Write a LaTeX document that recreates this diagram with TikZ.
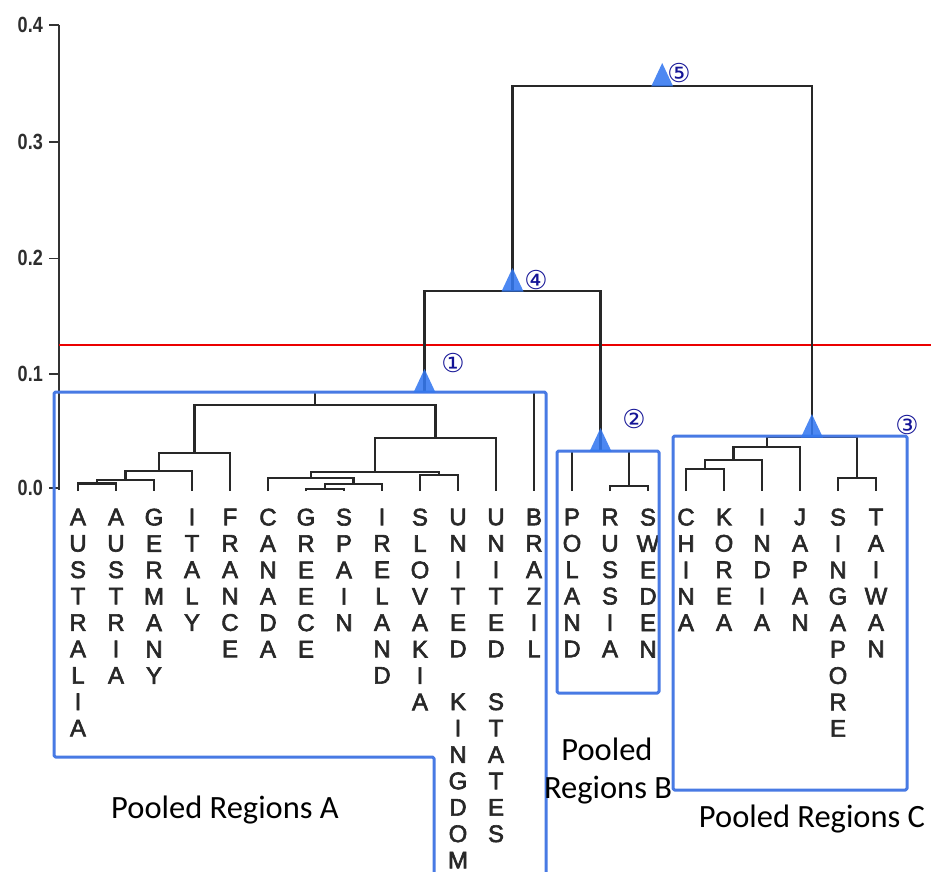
\documentclass[tikz,border=0pt]{standalone}
\usepackage{fontspec}
\setmainfont{Liberation Sans}
\newfontfamily\poolfont{Carlito}
\newfontfamily\leaffont[FakeBold=2.5]{Liberation Sans}
\newfontfamily\axisfont[FakeStretch=0.82]{Liberation Sans}
\newfontfamily\symfont{DejaVu Sans}
\definecolor{poolblue}{RGB}{72,122,228}
\definecolor{triblue}{RGB}{52,120,240}
\definecolor{numnavy}{RGB}{20,20,150}
\definecolor{treeink}{RGB}{40,40,40}

\begin{document}
\begin{tikzpicture}[x=1pt,y=-1pt,
  tree/.style={draw=treeink, line width=2.3pt},
  pool/.style={draw=poolblue, line width=3pt, line join=round, rounded corners=1.5pt},
  cutline/.style={draw=red!92!black, line width=2pt},
  tri/.style={fill=triblue, fill opacity=0.88},
  leaf/.style={anchor=north, inner sep=0pt, align=center,
    font=\leaffont\fontsize{24}{26.4}\selectfont, text=treeink},
  ticklabel/.style={anchor=east, inner sep=0pt, font=\axisfont\bfseries\fontsize{22}{22}\selectfont, text=black!82},
  poolname/.style={anchor=base, inner sep=0pt, font=\poolfont\fontsize{32.5}{38}\selectfont, text=black},
  num/.style={inner sep=0pt, font=\symfont\fontsize{26}{26}\selectfont, text=numnavy}
]
\useasboundingbox (0,0) rectangle (931,872);

% ---- axis ----
\coordinate (ax0) at (59,490);
\coordinate (ax4) at (59,25);
\draw[line width=2.3pt, draw=black!80] (ax0) -- (ax4);
\foreach \k/\v/\yy in {0/0.0/488, 1/0.1/374.2, 2/0.2/258.4, 3/0.3/141.6, 4/0.4/25}{
  \coordinate (tick\k) at (59,\yy);
  \coordinate (tickend\k) at (49,\yy);
  \draw[line width=1.8pt, draw=black!80] (tickend\k) -- (tick\k);
  \node[ticklabel] (ticklab\k) at (43,\yy) {\v};
}

% ---- cut-off line ----
\coordinate (cutL) at (59,345);
\coordinate (cutR) at (931,345);
\draw[cutline] (cutL) -- (cutR);

% ---- leaves ----
\foreach \i/\xx in {0/78,1/116,2/154,3/192,4/230,5/268,6/306,7/344,8/382,9/420,10/458,
                    11/496,12/534,13/572,14/610,15/648,16/686,17/724,18/762,19/800,20/838,21/876}{
  \coordinate (L\i) at (\xx,491);
}

% ---- merge points (x = midpoint of children, y = height) ----
\coordinate (a1) at (97,483.5);
\coordinate (a2) at (125.5,480);
\coordinate (a3) at (158.75,470.7);
\coordinate (a4) at (194.4,453);
\coordinate (b1) at (325,489);
\coordinate (b2) at (353.5,484);
\coordinate (b3) at (310.75,478);
\coordinate (b4) at (439,475);
\coordinate (b5) at (374.9,471.7);
\coordinate (b6) at (435.4,438);
\coordinate (a5) at (314.9,405);
\coordinate (a6) at (424.5,392);
\coordinate (p1) at (629,486);
\coordinate (p2) at (600.5,451);
\coordinate (c1) at (705,469);
\coordinate (c2) at (733.5,460);
\coordinate (c3) at (766.75,447);
\coordinate (c4) at (857,478);
\coordinate (c5) at (811.9,437);
\coordinate (d1) at (512.5,291);
\coordinate (d2) at (662.2,86);

% ---- dendrogram ----
\draw[tree] (L0) |- (a1) -| (L1);
\draw[tree] (a1) |- (a2) -| (L2);
\draw[tree] (a2) |- (a3) -| (L3);
\draw[tree] (a3) |- (a4) -| (L4);
\draw[tree] (L6) |- (b1) -| (L7);
\draw[tree] (b1) |- (b2) -| (L8);
\draw[tree] (L5) |- (b3) -| (b2);
\draw[tree] (L9) |- (b4) -| (L10);
\draw[tree] (b3) |- (b5) -| (b4);
\draw[tree] (b5) |- (b6) -| (L11);
\draw[tree] (a4) |- (a5) -| (b6);
\draw[tree] (a5) |- (a6) -| (L12);
\draw[tree] (L14) |- (p1) -| (L15);
\draw[tree] (L13) |- (p2) -| (p1);
\draw[tree] (L16) |- (c1) -| (L17);
\draw[tree] (c1) |- (c2) -| (L18);
\draw[tree] (c2) |- (c3) -| (L19);
\draw[tree] (L20) |- (c4) -| (L21);
\draw[tree] (c3) |- (c5) -| (c4);
\draw[tree] (a6) |- (d1) -| (p2);
\draw[tree] (d1) |- (d2) -| (c5);

% ---- leaf names ----
\node[leaf] (n0)  at (78,508.5)  {A\\U\\S\\T\\R\\A\\L\\I\\A};
\node[leaf] (n1)  at (116,508.5) {A\\U\\S\\T\\R\\I\\A};
\node[leaf] (n2)  at (154,508.5) {G\\E\\R\\M\\A\\N\\Y};
\node[leaf] (n3)  at (192,508.5) {I\\T\\A\\L\\Y};
\node[leaf] (n4)  at (230,508.5) {F\\R\\A\\N\\C\\E};
\node[leaf] (n5)  at (268,508.5) {C\\A\\N\\A\\D\\A};
\node[leaf] (n6)  at (306,508.5) {G\\R\\E\\E\\C\\E};
\node[leaf] (n7)  at (344,508.5) {S\\P\\A\\I\\N};
\node[leaf] (n8)  at (382,508.5) {I\\R\\E\\L\\A\\N\\D};
\node[leaf] (n9)  at (420,508.5) {S\\L\\O\\V\\A\\K\\I\\A};
\node[leaf] (n10) at (458,508.5) {U\\N\\I\\T\\E\\D\\\mbox{}\\K\\I\\N\\G\\D\\O\\M};
\node[leaf] (n11) at (496,508.5) {U\\N\\I\\T\\E\\D\\\mbox{}\\S\\T\\A\\T\\E\\S};
\node[leaf] (n12) at (534,508.5) {B\\R\\A\\Z\\I\\L};
\node[leaf] (n13) at (572,508.5) {P\\O\\L\\A\\N\\D};
\node[leaf] (n14) at (610,508.5) {R\\U\\S\\S\\I\\A};
\node[leaf] (n15) at (648,508.5) {S\\W\\E\\D\\E\\N};
\node[leaf] (n16) at (686,508.5) {C\\H\\I\\N\\A};
\node[leaf] (n17) at (724,508.5) {K\\O\\R\\E\\A};
\node[leaf] (n18) at (762,508.5) {I\\N\\D\\I\\A};
\node[leaf] (n19) at (800,508.5) {J\\A\\P\\A\\N};
\node[leaf] (n20) at (838,508.5) {S\\I\\N\\G\\A\\P\\O\\R\\E};
\node[leaf] (n21) at (876,508.5) {T\\A\\I\\W\\A\\N};

% ---- pooled regions ----
\coordinate (pa1) at (434,872);
\coordinate (pa2) at (434,757);
\coordinate (pa3) at (54,757);
\coordinate (pa4) at (54,392);
\coordinate (pa5) at (546,392);
\coordinate (pa6) at (546,872);
\draw[pool] (pa1) -- (pa2) -- (pa3) -- (pa4) -- (pa5) -- (pa6);
\coordinate (pb1) at (557,451);
\coordinate (pb2) at (659,693);
\draw[pool] (pb1) rectangle (pb2);
\coordinate (pc1) at (673,436);
\coordinate (pc2) at (907,790);
\draw[pool] (pc1) rectangle (pc2);

\node[poolname] (tA)  at (225,818) {Pooled Regions A};
\node[poolname] (tB1) at (607,760) {Pooled};
\node[poolname] (tB2) at (608,798) {Regions B};
\node[poolname] (tC)  at (812,827) {Pooled Regions C};

% ---- cluster markers ----
\foreach \c in {a6,p2,c5,d1,d2}{
  \fill[tri, shift={(\c)}] (-11,0.5) -- (0,-23) -- (11,0.5) -- cycle;
}
\node[num] (k1) at (453,363) {①};
\node[num] (k2) at (634,419) {②};
\node[num] (k3) at (907,425) {③};
\node[num] (k4) at (536,280) {④};
\node[num] (k5) at (679,73)  {⑤};
\end{tikzpicture}
\end{document}
